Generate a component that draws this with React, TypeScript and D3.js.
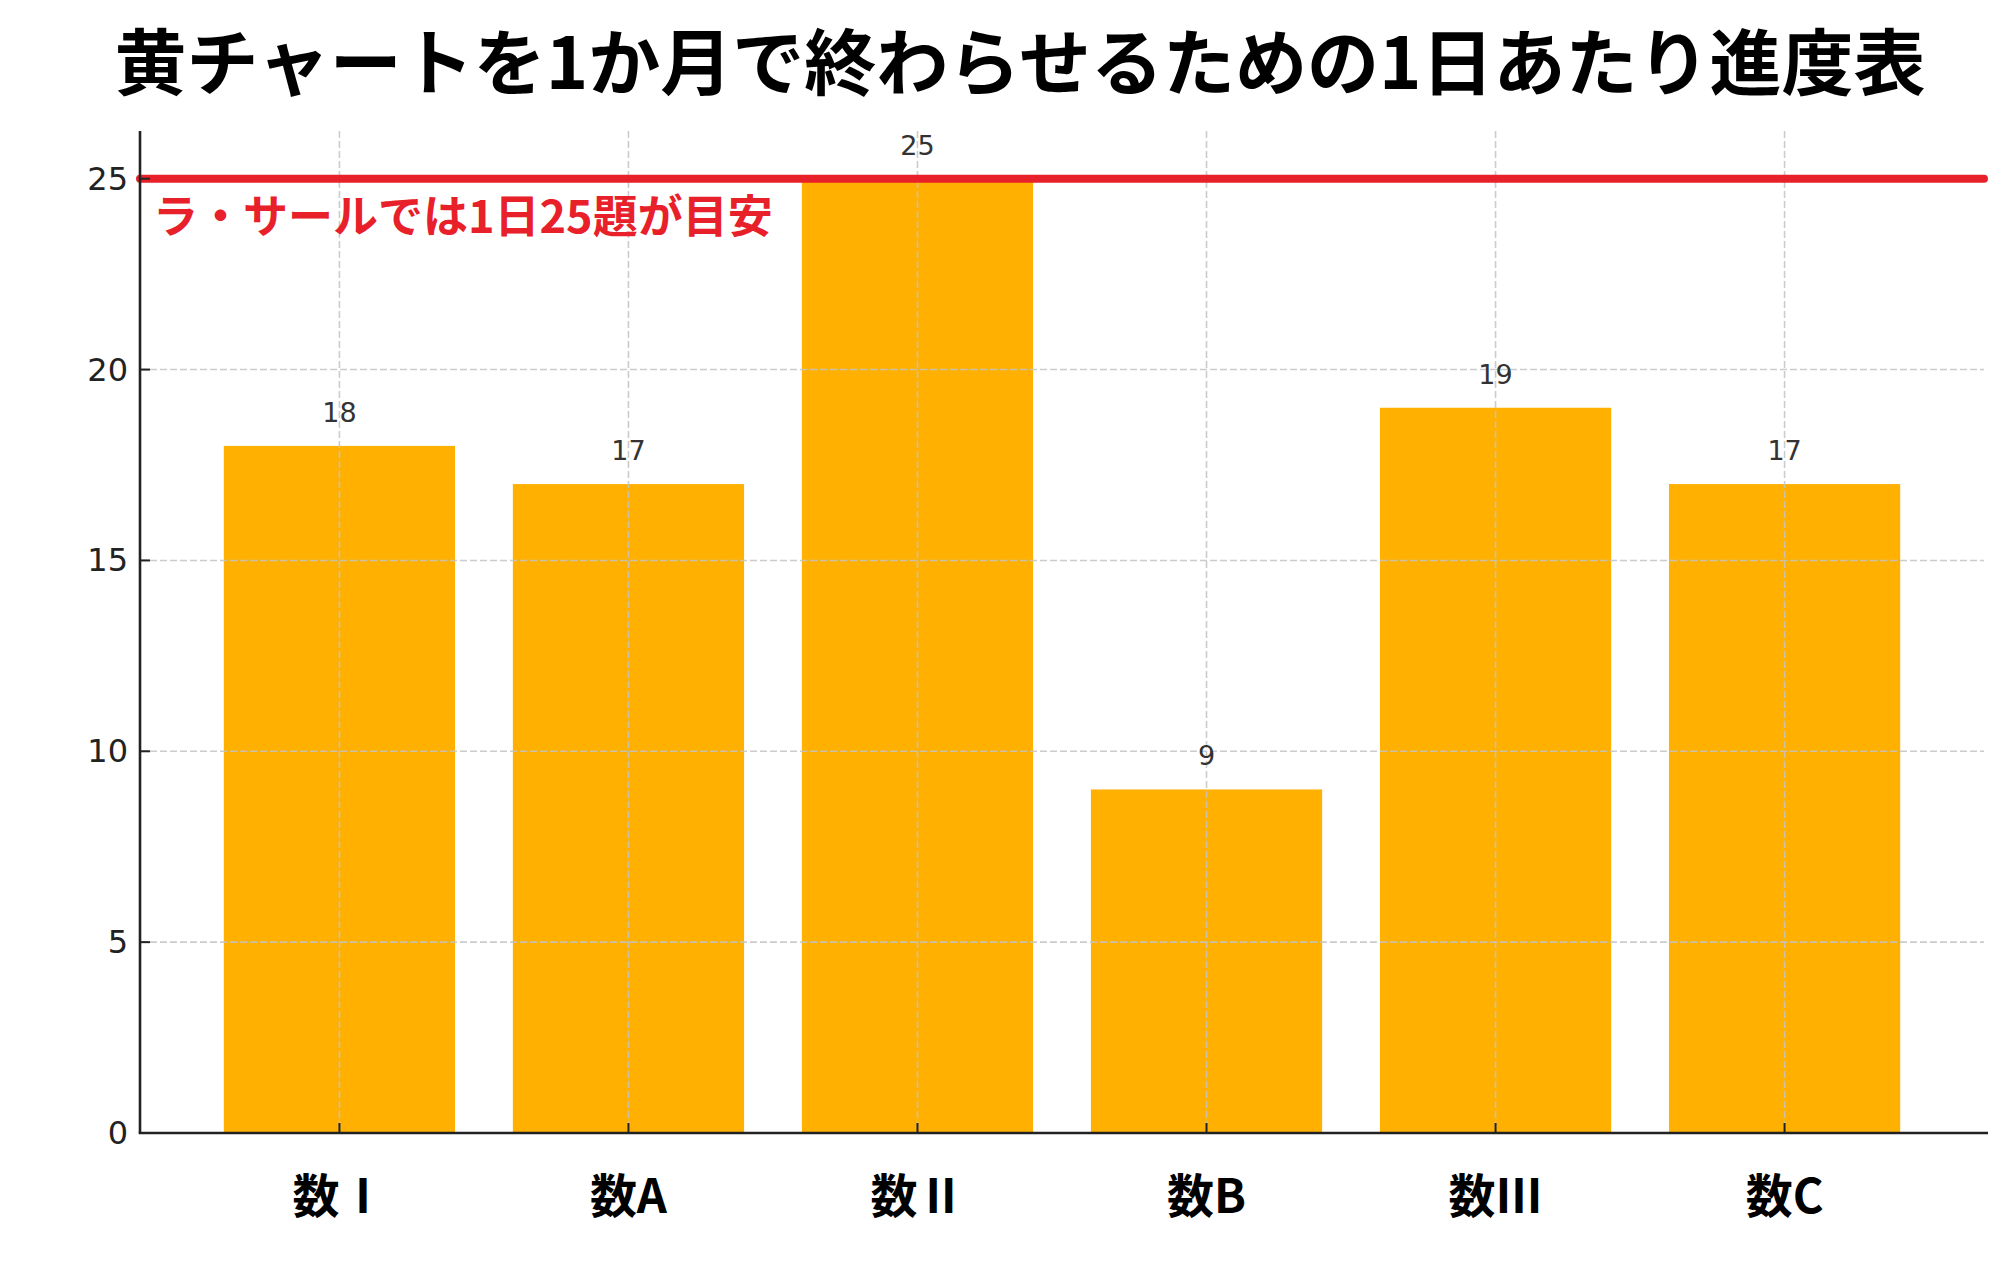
import React from "react";
import * as d3 from "d3";

const title = "黄チャートを1か月で終わらせるための1日あたり進度表";
const categories = ["数Ⅰ", "数A", "数Ⅱ", "数B", "数Ⅲ", "数C"];
const values = [18, 17, 25, 9, 19, 17];
const yTicks = [0, 5, 10, 15, 20, 25];
const targetValue = 25;
const targetLabel = "ラ・サールでは1日25題が目安";

const W = 1997;
const H = 1281;
const left = 140;
const right = 1984;
const top = 131;
const bottom = 1133;

const CJK = "'Noto Sans CJK JP', 'Noto Sans', sans-serif";
const NUM = "'DejaVu Sans', sans-serif";

export default function App() {
  const x = d3
    .scaleBand<string>()
    .domain(categories)
    .range([left, right])
    .paddingInner(0.2)
    .paddingOuter(0.29);
  const y = d3.scaleLinear().domain([0, 26.25]).range([bottom, top]);
  const cx = (c: string) => (x(c) as number) + x.bandwidth() / 2;

  return (
    <svg
      width={W}
      height={H}
      viewBox={`0 0 ${W} ${H}`}
      style={{ position: "absolute", left: 0, top: 0, background: "#fff" }}
    >
      <rect x={0} y={0} width={W} height={H} fill="#fff" />
      <text
        x={1020}
        y={57}
        textAnchor="middle"
        dominantBaseline="central"
        fontFamily={CJK}
        fontWeight={700}
        fontSize={72}
        fill="#000"
      >
        {title}
      </text>

      {/* bars */}
      {categories.map((c, i) => (
        <rect
          key={c}
          x={x(c)}
          y={y(values[i])}
          width={x.bandwidth()}
          height={y(0) - y(values[i])}
          fill="#FFB000"
        />
      ))}

      {/* grid */}
      <g stroke="#c4c4c4" strokeWidth={1.6} strokeDasharray="7,3" opacity={0.85}>
        {categories.map((c) => (
          <line key={c} x1={cx(c)} x2={cx(c)} y1={top} y2={bottom} />
        ))}
        {yTicks.map((t) => (
          <line key={t} x1={left} x2={right} y1={y(t)} y2={y(t)} />
        ))}
      </g>

      {/* value labels */}
      {categories.map((c, i) => (
        <text
          key={c}
          x={cx(c)}
          y={y(values[i]) - 24}
          textAnchor="middle"
          fontFamily={NUM}
          fontSize={27}
          fill="#333"
        >
          {values[i]}
        </text>
      ))}

      {/* target line */}
      <line
        x1={left}
        x2={right}
        y1={y(targetValue)}
        y2={y(targetValue)}
        stroke="#E8202A"
        strokeWidth={8}
        strokeLinecap="round"
      />
      <text
        x={153}
        y={213}
        dominantBaseline="central"
        fontFamily={CJK}
        fontWeight={700}
        fontSize={45}
        fill="#E8202A"
      >
        {targetLabel}
      </text>

      {/* spines */}
      <line x1={left} x2={left} y1={top} y2={bottom} stroke="#222" strokeWidth={2.6} />
      <line x1={left - 1.3} x2={right + 4} y1={bottom} y2={bottom} stroke="#222" strokeWidth={2.6} />

      {/* y ticks */}
      {yTicks.map((t) => (
        <g key={t}>
          <line x1={left} x2={left + 10} y1={y(t)} y2={y(t)} stroke="#222" strokeWidth={2} />
          <text
            x={128}
            y={y(t)}
            textAnchor="end"
            dominantBaseline="central"
            fontFamily={NUM}
            fontSize={32}
            fill="#222"
          >
            {t}
          </text>
        </g>
      ))}

      {/* x ticks */}
      {categories.map((c) => (
        <g key={c}>
          <line x1={cx(c)} x2={cx(c)} y1={bottom} y2={bottom - 10} stroke="#222" strokeWidth={2} />
          <text
            x={cx(c)}
            y={1192}
            textAnchor="middle"
            dominantBaseline="central"
            fontFamily={CJK}
            fontWeight={700}
            fontSize={47}
            fill="#000"
          >
            {c}
          </text>
        </g>
      ))}
    </svg>
  );
}
